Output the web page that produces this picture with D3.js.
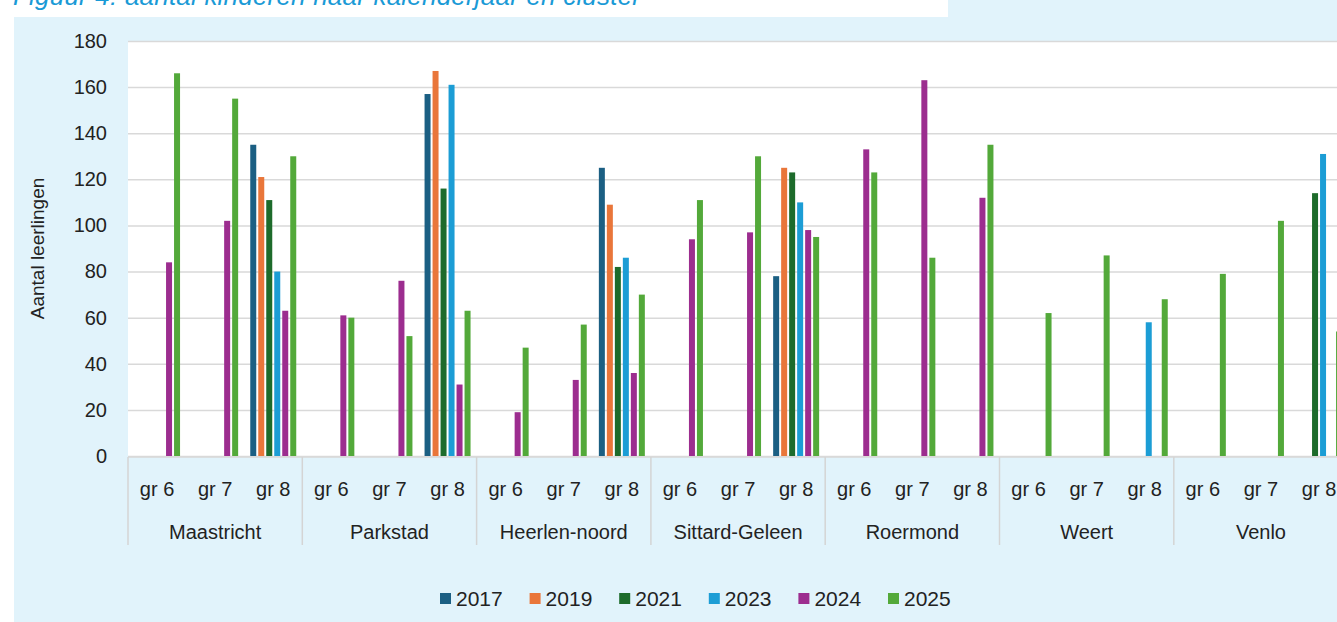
<!DOCTYPE html>
<html>
<head>
<meta charset="utf-8">
<script src="https://cdn.jsdelivr.net/npm/d3@7"></script>
<style>
    body { margin: 0; background: #ffffff; }
    svg { display: block; font-family: "Liberation Sans", Arial, sans-serif; }
</style>
</head>
<body>
<div id="chart"></div>
<script>
'use strict';

// clusters and groups on the x axis
var clusters = ['Maastricht', 'Parkstad', 'Heerlen-noord', 'Sittard-Geleen', 'Roermond', 'Weert', 'Venlo'];
var groepen = ['gr 6', 'gr 7', 'gr 8'];
var years = ['2017', '2019', '2021', '2023', '2024', '2025'];
var yTicks = [0, 20, 40, 60, 80, 100, 120, 140, 160, 180];

// one value per cluster x groep (gr 6, gr 7, gr 8), null = no bar
var val2017 = [null, null, 135, null, null, 157, null, null, 125, null, null, 78, null, null, null, null, null, null, null, null, null];
var val2019 = [null, null, 121, null, null, 167, null, null, 109, null, null, 125, null, null, null, null, null, null, null, null, null];
var val2021 = [null, null, 111, null, null, 116, null, null, 82, null, null, 123, null, null, null, null, null, null, null, null, 114];
var val2023 = [null, null, 80, null, null, 161, null, null, 86, null, null, 110, null, null, null, null, null, 58, null, null, 131];
var val2024 = [84, 102, 63, 61, 76, 31, 19, 33, 36, 94, 97, 98, 133, 163, 112, null, null, null, null, null, null];
var val2025 = [166, 155, 130, 60, 52, 63, 47, 57, 70, 111, 130, 95, 123, 86, 135, 62, 87, 68, 79, 102, 54];

var seriesValues = [val2017, val2019, val2021, val2023, val2024, val2025];
var colors = ['#1b5f83', '#e9763a', '#1d6b2b', '#1c9dd5', '#9c2d8f', '#53a93a'];

var width = 1337, height = 622;
var plotLeft = 128, plotTop = 41, plotBottom = 456;
var bandW = 58.1;

var svg = d3.select('#chart')
    .append('svg')
    .attr('width', width)
    .attr('height', height);

// backgrounds
svg.append('rect').attr('x', 14).attr('y', 0).attr('width', width - 14).attr('height', height).attr('fill', '#e1f3fb');
svg.append('rect').attr('x', 0).attr('y', 0).attr('width', 948).attr('height', 17).attr('fill', '#ffffff');

// title, cut off at the top like the picture
svg.append('text')
    .attr('x', 13)
    .attr('y', 5)
    .attr('font-size', 26)
    .attr('font-style', 'italic')
    .attr('fill', '#1a9ad6')
    .attr('textLength', 628)
    .attr('lengthAdjust', 'spacing')
    .text('Figuur 4: aantal kinderen naar kalenderjaar en cluster');

var keys = [];
clusters.forEach(function(c) {
    groepen.forEach(function(g) { keys.push(c + '|' + g); });
});

var x0 = d3.scaleBand()
    .domain(keys)
    .range([plotLeft, plotLeft + keys.length * bandW])
    .padding(0);

var x1 = d3.scaleBand()
    .domain(years)
    .range([bandW * 0.087, bandW * 0.913])
    .paddingInner(0.25)
    .paddingOuter(0.125);

var y = d3.scaleLinear()
    .domain([0, 180])
    .range([plotBottom, plotTop]);

// plot area
svg.append('rect')
    .attr('x', plotLeft)
    .attr('y', plotTop)
    .attr('width', width - plotLeft)
    .attr('height', plotBottom - plotTop)
    .attr('fill', '#ffffff');

// gridlines + y labels
var yAxis = svg.append('g')
    .attr('transform', 'translate(' + plotLeft + ',0)')
    .call(d3.axisLeft(y).tickValues(yTicks).tickSize(-(width - plotLeft)).tickPadding(21));
yAxis.select('.domain').remove();
yAxis.selectAll('.tick line').attr('stroke', '#d9d9d9').attr('stroke-width', 1.5);
yAxis.selectAll('.tick text')
    .attr('font-size', 20)
    .attr('fill', '#222222')
    .attr('font-family', '"Liberation Sans", Arial, sans-serif');

svg.append('text')
    .attr('transform', 'translate(44,' + ((plotTop + plotBottom) / 2) + ') rotate(-90)')
    .attr('text-anchor', 'middle')
    .attr('font-size', 19)
    .attr('fill', '#222222')
    .text('Aantal leerlingen');

// bars
var barData = [];
seriesValues.forEach(function(arr, i) {
    arr.forEach(function(v, j) {
        if (v !== null) barData.push({key: keys[j], year: years[i], value: v, color: colors[i]});
    });
});

svg.append('g')
    .selectAll('rect')
    .data(barData)
    .enter()
    .append('rect')
    .attr('x', function(d) { return x0(d.key) + x1(d.year); })
    .attr('y', function(d) { return y(d.value); })
    .attr('width', x1.bandwidth())
    .attr('height', function(d) { return y(0) - y(d.value); })
    .attr('fill', function(d) { return d.color; });

// category axis below the plot
svg.append('line')
    .attr('x1', plotLeft).attr('x2', width)
    .attr('y1', plotBottom + 1).attr('y2', plotBottom + 1)
    .attr('stroke', '#d9d9d9').attr('stroke-width', 1.5);

svg.append('g')
    .selectAll('line')
    .data(clusters)
    .enter()
    .append('line')
    .attr('x1', function(c) { return x0(c + '|gr 6'); })
    .attr('x2', function(c) { return x0(c + '|gr 6'); })
    .attr('y1', plotBottom + 1)
    .attr('y2', 545)
    .attr('stroke', '#d4d4d4')
    .attr('stroke-width', 1.5);

svg.append('g')
    .selectAll('text')
    .data(keys)
    .enter()
    .append('text')
    .attr('x', function(k) { return x0(k) + bandW / 2; })
    .attr('y', 496)
    .attr('text-anchor', 'middle')
    .attr('font-size', 20)
    .attr('fill', '#222222')
    .text(function(k) { return k.split('|')[1]; });

svg.append('g')
    .selectAll('text')
    .data(clusters)
    .enter()
    .append('text')
    .attr('x', function(c) { return x0(c + '|gr 6') + bandW * 1.5; })
    .attr('y', 539)
    .attr('text-anchor', 'middle')
    .attr('font-size', 20)
    .attr('fill', '#222222')
    .text(function(c) { return c; });

// legend
var legend = svg.append('g')
    .selectAll('g')
    .data(years)
    .enter()
    .append('g')
    .attr('transform', function(d, i) { return 'translate(' + (440 + i * 89.6) + ',598)'; });

legend.append('rect')
    .attr('x', 0).attr('y', -5)
    .attr('width', 11).attr('height', 11)
    .attr('fill', function(d, i) { return colors[i]; });

legend.append('text')
    .attr('x', 16)
    .attr('y', 8)
    .attr('font-size', 21)
    .attr('fill', '#222222')
    .text(function(d) { return d; });
</script>
</body>
</html>
